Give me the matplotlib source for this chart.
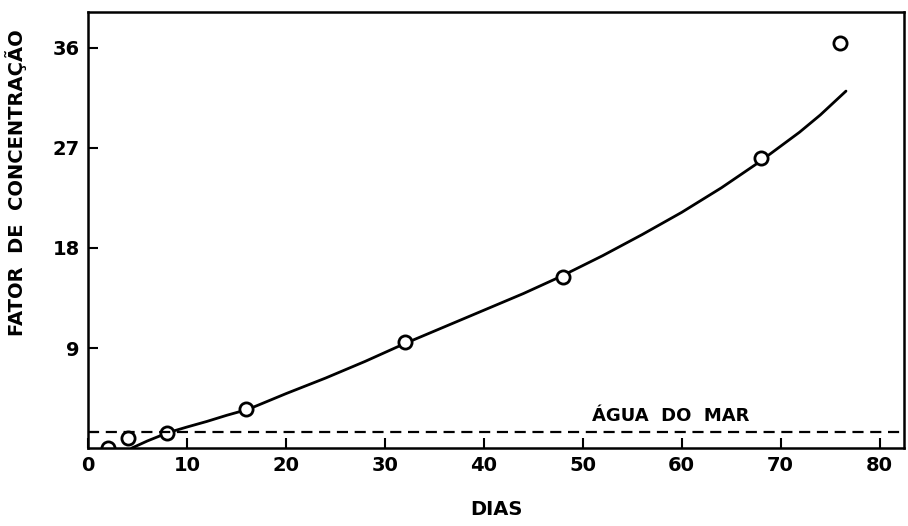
import matplotlib
matplotlib.use("Agg")
import matplotlib.pyplot as plt

# pontos medidos (dias, fator de concentracao)
dias = [2, 4, 8, 16, 32, 48, 68, 76]
fator = [0.0, 0.9, 1.35, 3.5, 9.5, 15.4, 26.1, 36.4]

# curva ajustada
curva_dias = [4.4, 6.0, 8.1, 10.0, 12.0, 14.0, 16.2, 20.0, 24.0, 28.0, 32.0, 36.0,
              40.0, 44.0, 47.7, 52.0, 56.0, 60.0, 64.0, 67.8, 71.9, 74.0, 76.6]
curva_fator = [0.0, 0.65, 1.4, 1.9, 2.4, 2.95, 3.5, 4.9, 6.3, 7.8, 9.4, 10.9,
               12.4, 13.9, 15.4, 17.3, 19.2, 21.2, 23.4, 25.7, 28.4, 29.95, 32.1]

agua_do_mar = 1.44

xticks = [0, 10, 20, 30, 40, 50, 60, 70, 80]
yticks = [9, 18, 27, 36]

plt.rcParams['font.family'] = ['DejaVu Sans']
plt.rcParams['font.weight'] = 'bold'

fig = plt.figure(figsize=(9.08, 5.26), dpi=100)
ax = fig.add_axes([0.097, 0.148, 0.899, 0.829])

ax.plot(curva_dias, curva_fator, color='black', lw=2, solid_capstyle='round',
        solid_joinstyle='round')
ax.plot(dias, fator, 'o', ms=9.5, mfc='white', mec='black', mew=2, clip_on=True)
ax.axhline(agua_do_mar, color='black', lw=1.6, ls=(0, (5, 3)))
ax.text(58.9, agua_do_mar + 0.6, 'ÁGUA  DO  MAR', ha='center', va='bottom',
        fontsize=13, fontweight='bold')

ax.set_xlim(0, 82.5)
ax.set_ylim(0, 39.2)
ax.set_xticks(xticks)
ax.set_yticks(yticks)
ax.set_yticks([agua_do_mar], minor=True)
ax.tick_params(direction='in', length=7, width=1.5, labelsize=14, pad=6)
ax.tick_params(which='minor', direction='in', length=7, width=1.5)
for lab in ax.get_xticklabels() + ax.get_yticklabels():
    lab.set_fontweight('bold')
for s in ax.spines.values():
    s.set_linewidth(1.8)

ax.set_xlabel('DIAS', fontsize=14, fontweight='bold', labelpad=18)
ax.set_ylabel('FATOR  DE  CONCENTRAÇÃO', fontsize=14, fontweight='bold')
ax.yaxis.set_label_coords(-0.075, 0.61)

fig.savefig('out.png', dpi=100)
